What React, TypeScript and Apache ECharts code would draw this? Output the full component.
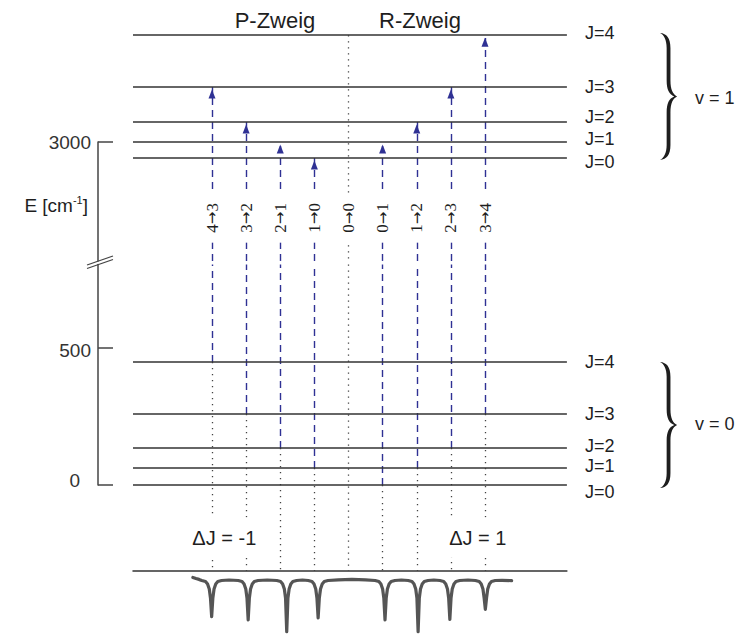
import React, { useEffect, useRef } from "react";
import * as echarts from "echarts";

// ---------------- data ----------------
const levelsV0 = [0, 62, 135, 259, 449]; // E of J=0..4 in v=0 [cm^-1]
const levelsV1 = [2942, 3000, 3073, 3201, 3390]; // E of J=0..4 in v=1 [cm^-1]
const levelNames = ["J=0", "J=1", "J=2", "J=3", "J=4"];
const transitionX = [0, 1, 2, 3, 4, 5, 6, 7, 8];
const transitionFromJ = [4, 3, 2, 1, 0, 0, 1, 2, 3];
const transitionToJ = [3, 2, 1, 0, 0, 1, 2, 3, 4];
const transitionAllowed = [true, true, true, true, false, true, true, true, true];
const upperTicks = [3000];
const lowerTicks = [0, 500];
const branchNames = ["P-Zweig", "R-Zweig"];
const deltaJNames = ["ΔJ = -1", "ΔJ = 1"];
const vibNames = ["v = 1", "v = 0"];
// absorption spectrum trace: [position, intensity]
const spectrum: [number, number][] = [
  [-0.56, 2.5], [-0.47, 1.5], [-0.38, 0.6],
  [-0.3, -0.5], [-0.19, -1.5], [-0.13, -4], [-0.08, -9], [-0.045, -18], [-0.01, -36.7], [0.025, -18], [0.06, -9], [0.11, -4], [0.17, -1.5], [0.28, -0.5],
  [0.5, 0],
  [0.77, -0.5], [0.88, -1.5], [0.94, -4], [0.99, -9], [1.025, -18], [1.06, -40], [1.095, -18], [1.13, -9], [1.18, -4], [1.24, -1.5], [1.35, -0.5],
  [1.62, 0],
  [1.9, -0.5], [2.01, -1.5], [2.07, -4], [2.12, -9], [2.155, -18], [2.19, -51.7], [2.225, -18], [2.26, -9], [2.31, -4], [2.37, -1.5], [2.48, -0.5],
  [2.65, 0],
  [2.82, -0.5], [2.93, -1.5], [2.99, -4], [3.04, -9], [3.075, -18], [3.11, -38], [3.145, -18], [3.18, -9], [3.23, -4], [3.29, -1.5], [3.4, -0.5],
  [3.7, 0.2], [4.1, 0.6], [4.5, 0.2],
  [4.78, -0.5], [4.89, -1.5], [4.95, -4], [5.0, -9], [5.035, -18], [5.07, -40], [5.105, -18], [5.14, -9], [5.19, -4], [5.25, -1.5], [5.36, -0.5],
  [5.55, 0],
  [5.75, -0.5], [5.86, -1.5], [5.92, -4], [5.97, -9], [6.005, -18], [6.04, -51.7], [6.075, -18], [6.11, -9], [6.16, -4], [6.22, -1.5], [6.33, -0.5],
  [6.5, 0],
  [6.68, -0.5], [6.79, -1.5], [6.85, -4], [6.9, -9], [6.935, -18], [6.97, -39.3], [7.005, -18], [7.04, -9], [7.09, -4], [7.15, -1.5], [7.26, -0.5],
  [7.5, 0],
  [7.72, -0.5], [7.83, -1.5], [7.89, -4], [7.94, -9], [7.975, -18], [8.01, -29.3], [8.045, -18], [8.08, -9], [8.13, -4], [8.19, -1.5], [8.3, -0.5],
  [8.5, -0.3], [8.78, -0.6],
];

// ---------------- layout / style constants ----------------
const PX = 34.125; // px per transition step
const X0 = 212; // px of transition 0
const AXIS_X = 98;
const S = 0.274; // px per cm^-1
const X_MIN = (AXIS_X - X0) / PX;
const X_MAX = 12.5;
const LVL_START = -2.315;
const LVL_END = 10.4;
const TOP_MIN = 2566;
const TOP_MAX = 3000;
const TOP_Y = 142;
const BOT_MIN = 0;
const BOT_MAX = 805;
const BOT_Y0 = 485;
const E_BASE = -314;
const LABEL_E = 2723;
const DJ_E = -192;
const DJ_X = [0.36, 7.79];
const SPEC_MIN = -55;
const SPEC_MAX = 9;
const SPEC_TOP = 571;
const J_DY_UPPER = [4, -3, -5, 0, -2];
const J_DY_LOWER = [7, -2, -2, 0, 0];

const LEVEL_COLOR = "#333";
const ARROW_COLOR = "#2f3194";
const DOT_COLOR = "#444";
const TEXT_COLOR = "#1e1e1e";
const SANS = '"Liberation Sans", Arial, sans-serif';
const SERIF = '"Liberation Serif", "Times New Roman", serif';

const BRACE_D =
  "M0,0 C7,0.5 11,5 11,15 L11,48 C11,57 13.5,62 18,64 C13.5,66 11,71 11,80 L11,113 C11,123 7,127.5 0,128 " +
  "C4,126.5 7,121 7,113 L7,80 C7,71 9.5,66 15,64 C9.5,62 7,57 7,48 L7,15 C7,7 4,1.5 0,0 Z";

let braceRegistered = false;

export default function App() {
  const ref = useRef<HTMLDivElement>(null);

  useEffect(() => {
    document.body.style.margin = "0";
    if (!braceRegistered) {
      echarts.graphic.registerShape("brace", echarts.graphic.extendPath(BRACE_D, {}));
      braceRegistered = true;
    }
    const chart = echarts.init(ref.current!, undefined, { renderer: "svg" });

    const gridWidth = (X_MAX - X_MIN) * PX;
    const topHeight = (TOP_MAX - TOP_MIN) * S;
    const botHeight = (BOT_MAX - BOT_MIN) * S;
    const botTop = BOT_Y0 - BOT_MAX * S;

    const axisLineStyle = { color: "#444", width: 1.5 };

    const hiddenX = (idx: number) => ({
      type: "value",
      gridIndex: idx,
      min: X_MIN,
      max: X_MAX,
      show: false,
    });

    const allowedIdx = transitionX.filter((i) => transitionAllowed[i]);
    const forbiddenIdx = transitionX.filter((i) => !transitionAllowed[i]);
    const topE = Math.max(...levelsV1);

    const labelScatter = {
      type: "scatter",
      clip: false,
      silent: true,
      symbolSize: 0,
      itemStyle: { color: "transparent", opacity: 1 },
    };

    const option: any = {
      animation: false,
      textStyle: { fontFamily: SANS },
      grid: [
        { left: AXIS_X, top: TOP_Y, width: gridWidth, height: topHeight, outerBoundsMode: "none", containLabel: false },
        { left: AXIS_X, top: botTop, width: gridWidth, height: botHeight, outerBoundsMode: "none", containLabel: false },
        {
          left: X0 + LVL_START * PX,
          top: SPEC_TOP,
          width: (LVL_END - LVL_START) * PX,
          height: SPEC_MAX - SPEC_MIN,
          outerBoundsMode: "none",
          containLabel: false,
        },
      ],
      xAxis: [
        hiddenX(0),
        hiddenX(1),
        {
          type: "value",
          gridIndex: 2,
          min: LVL_START,
          max: LVL_END,
          position: "top",
          axisLine: { show: true, onZero: false, lineStyle: { color: LEVEL_COLOR, width: 1.5 } },
          axisTick: { show: false },
          axisLabel: { show: false },
          splitLine: { show: false },
        },
      ],
      yAxis: [
        {
          type: "value",
          gridIndex: 0,
          min: TOP_MIN,
          max: TOP_MAX,
          axisLine: { show: true, onZero: false, lineStyle: axisLineStyle },
          axisTick: { show: true, inside: true, length: 15, customValues: upperTicks, lineStyle: axisLineStyle },
          axisLabel: {
            show: true,
            customValues: upperTicks,
            margin: 7,
            fontSize: 19,
            color: "#333",
            padding: [10, 0, 0, 0],
            formatter: (v: number) => String(v),
          },
          splitLine: { show: false },
        },
        {
          type: "value",
          gridIndex: 1,
          min: BOT_MIN,
          max: BOT_MAX,
          axisLine: { show: true, onZero: false, lineStyle: axisLineStyle },
          axisTick: { show: true, inside: true, length: 15, customValues: lowerTicks, lineStyle: axisLineStyle },
          axisLabel: {
            show: true,
            customValues: lowerTicks,
            margin: 7,
            fontSize: 19,
            color: "#333",
            formatter: (v: number) => (v === 0 ? "{z|0}" : "{n|" + String(v) + "}"),
            rich: {
              z: { fontSize: 19, color: "#333", padding: [0, 11, 10, 0] },
              n: { fontSize: 19, color: "#333", padding: [4, 0, 0, 0] },
            },
          },
          splitLine: { show: false },
        },
        { type: "value", gridIndex: 2, min: SPEC_MIN, max: SPEC_MAX, show: false },
      ],
      series: [
        // energy levels
        {
          type: "lines",
          coordinateSystem: "cartesian2d",
          xAxisIndex: 0,
          yAxisIndex: 0,
          clip: false,
          silent: true,
          z: 4,
          lineStyle: { color: LEVEL_COLOR, width: 1.5, opacity: 1, curveness: 0 },
          data: levelsV1.map((e) => ({ coords: [[LVL_START, e], [LVL_END, e]] })),
        },
        {
          type: "lines",
          coordinateSystem: "cartesian2d",
          xAxisIndex: 1,
          yAxisIndex: 1,
          clip: false,
          silent: true,
          z: 4,
          lineStyle: { color: LEVEL_COLOR, width: 1.5, opacity: 1, curveness: 0 },
          data: levelsV0.map((e) => ({ coords: [[LVL_START, e], [LVL_END, e]] })),
        },
        // dashed transitions (upper part)
        {
          type: "lines",
          coordinateSystem: "cartesian2d",
          xAxisIndex: 0,
          yAxisIndex: 0,
          clip: false,
          silent: true,
          z: 2,
          lineStyle: { color: ARROW_COLOR, width: 1.4, opacity: 1, type: [7, 5], curveness: 0 },
          data: allowedIdx.map((i) => ({ coords: [[i, TOP_MIN], [i, levelsV1[transitionToJ[i]]]] })),
        },
        // dashed transitions (lower part)
        {
          type: "lines",
          coordinateSystem: "cartesian2d",
          xAxisIndex: 1,
          yAxisIndex: 1,
          clip: false,
          silent: true,
          z: 2,
          lineStyle: { color: ARROW_COLOR, width: 1.4, opacity: 1, type: [7, 5], curveness: 0 },
          data: allowedIdx.map((i) => ({ coords: [[i, levelsV0[transitionFromJ[i]]], [i, BOT_MAX]] })),
        },
        // dotted lines (upper part: forbidden transition)
        {
          type: "lines",
          coordinateSystem: "cartesian2d",
          xAxisIndex: 0,
          yAxisIndex: 0,
          clip: false,
          silent: true,
          z: 2,
          lineStyle: { color: DOT_COLOR, width: 1.3, opacity: 1, type: [1.3, 4.7], curveness: 0 },
          data: forbiddenIdx.map((i) => ({ coords: [[i, topE], [i, TOP_MIN]] })),
        },
        // dotted lines (lower part)
        {
          type: "lines",
          coordinateSystem: "cartesian2d",
          xAxisIndex: 1,
          yAxisIndex: 1,
          clip: false,
          silent: true,
          z: 2,
          lineStyle: { color: DOT_COLOR, width: 1.3, opacity: 1, type: [1.3, 4.7], curveness: 0 },
          data: transitionX.map((i) => ({
            coords: [[i, transitionAllowed[i] ? levelsV0[transitionFromJ[i]] : BOT_MAX], [i, E_BASE]],
          })),
        },
        // arrow heads
        {
          type: "scatter",
          xAxisIndex: 0,
          yAxisIndex: 0,
          clip: false,
          silent: true,
          z: 3,
          symbol: "triangle",
          symbolSize: [7, 9],
          symbolOffset: [0, 7],
          itemStyle: { color: ARROW_COLOR, opacity: 1 },
          data: allowedIdx.map((i) => [i, levelsV1[transitionToJ[i]]]),
        },
        // transition labels  (J'' → J')
        {
          ...labelScatter,
          xAxisIndex: 0,
          yAxisIndex: 0,
          z: 6,
          label: {
            show: true,
            position: "inside",
            rotate: 90,
            formatter: (p: any) =>
              "{d|" + transitionFromJ[p.dataIndex] + "}{a|→}{d|" + transitionToJ[p.dataIndex] + "}",
            rich: {
              d: { fontFamily: SERIF, fontSize: 17, color: TEXT_COLOR },
              a: { fontFamily: '"DejaVu Sans", sans-serif', fontSize: 15, color: TEXT_COLOR },
            },
            fontFamily: SERIF,
            fontSize: 17,
            color: TEXT_COLOR,
            backgroundColor: "#fff",
            padding: [1, 10, 1, 10],
          },
          data: transitionX.map((i) => [i, LABEL_E]),
        },
        // J labels
        {
          ...labelScatter,
          xAxisIndex: 0,
          yAxisIndex: 0,
          data: levelsV1.map((e, j) => ({
            value: [LVL_END, e],
            label: {
              show: true,
              position: "right",
              distance: 18,
              offset: [0, J_DY_UPPER[j]],
              formatter: levelNames[j],
              fontSize: 18,
              color: TEXT_COLOR,
            },
          })),
        },
        {
          ...labelScatter,
          xAxisIndex: 1,
          yAxisIndex: 1,
          data: levelsV0.map((e, j) => ({
            value: [LVL_END, e],
            label: {
              show: true,
              position: "right",
              distance: 18,
              offset: [0, J_DY_LOWER[j]],
              formatter: levelNames[j],
              fontSize: 18,
              color: TEXT_COLOR,
            },
          })),
        },
        // ΔJ labels
        {
          ...labelScatter,
          xAxisIndex: 1,
          yAxisIndex: 1,
          z: 6,
          label: {
            show: true,
            position: "inside",
            formatter: (p: any) => deltaJNames[p.dataIndex],
            fontSize: 20,
            color: TEXT_COLOR,
            backgroundColor: "#fff",
            padding: [12, 4, 8, 4],
          },
          data: DJ_X.map((x) => [x, DJ_E]),
        },
        // spectrum
        {
          type: "line",
          xAxisIndex: 2,
          yAxisIndex: 2,
          clip: false,
          silent: true,
          symbol: "none",
          showSymbol: false,
          lineStyle: { color: "#555", width: 3.2, join: "round", cap: "round" },
          data: spectrum,
        },
      ],
      graphic: [
        {
          type: "text",
          x: 275,
          y: 20,
          style: { text: branchNames[0], font: "22px " + SANS, fill: TEXT_COLOR, align: "center", verticalAlign: "middle" },
        },
        {
          type: "text",
          x: 420,
          y: 20,
          style: { text: branchNames[1], font: "22px " + SANS, fill: TEXT_COLOR, align: "center", verticalAlign: "middle" },
        },
        {
          type: "text",
          x: 695,
          y: 98,
          style: { text: vibNames[0], font: "18px " + SANS, fill: TEXT_COLOR, align: "left", verticalAlign: "middle" },
        },
        {
          type: "text",
          x: 695,
          y: 424,
          style: { text: vibNames[1], font: "18px " + SANS, fill: TEXT_COLOR, align: "left", verticalAlign: "middle" },
        },
        {
          type: "text",
          x: 88,
          y: 205,
          style: {
            text: "E [cm{sup|-1}]",
            font: "19px " + SANS,
            fontSize: 19,
            fontFamily: SANS,
            fill: TEXT_COLOR,
            align: "right",
            verticalAlign: "middle",
            rich: { sup: { fontSize: 11, fontFamily: SANS, fill: TEXT_COLOR, padding: [0, 0, 10, 0] } },
          },
        },
        { type: "brace", x: 660, y: 33, scaleX: 0.95, scaleY: 127 / 128, style: { fill: "#1e1e1e" } },
        { type: "brace", x: 660, y: 362, scaleX: 0.95, scaleY: 126 / 128, style: { fill: "#1e1e1e" } },
        // axis break marks
        { type: "line", shape: { x1: 87, y1: 265, x2: 113, y2: 256 }, style: { stroke: "#444", lineWidth: 1.3 } },
        { type: "line", shape: { x1: 87, y1: 268.5, x2: 113, y2: 259.5 }, style: { stroke: "#444", lineWidth: 1.3 } },
      ],
    };

    chart.setOption(option);
    return () => chart.dispose();
  }, []);

  return <div ref={ref} style={{ width: 739, height: 634 }} />;
}
